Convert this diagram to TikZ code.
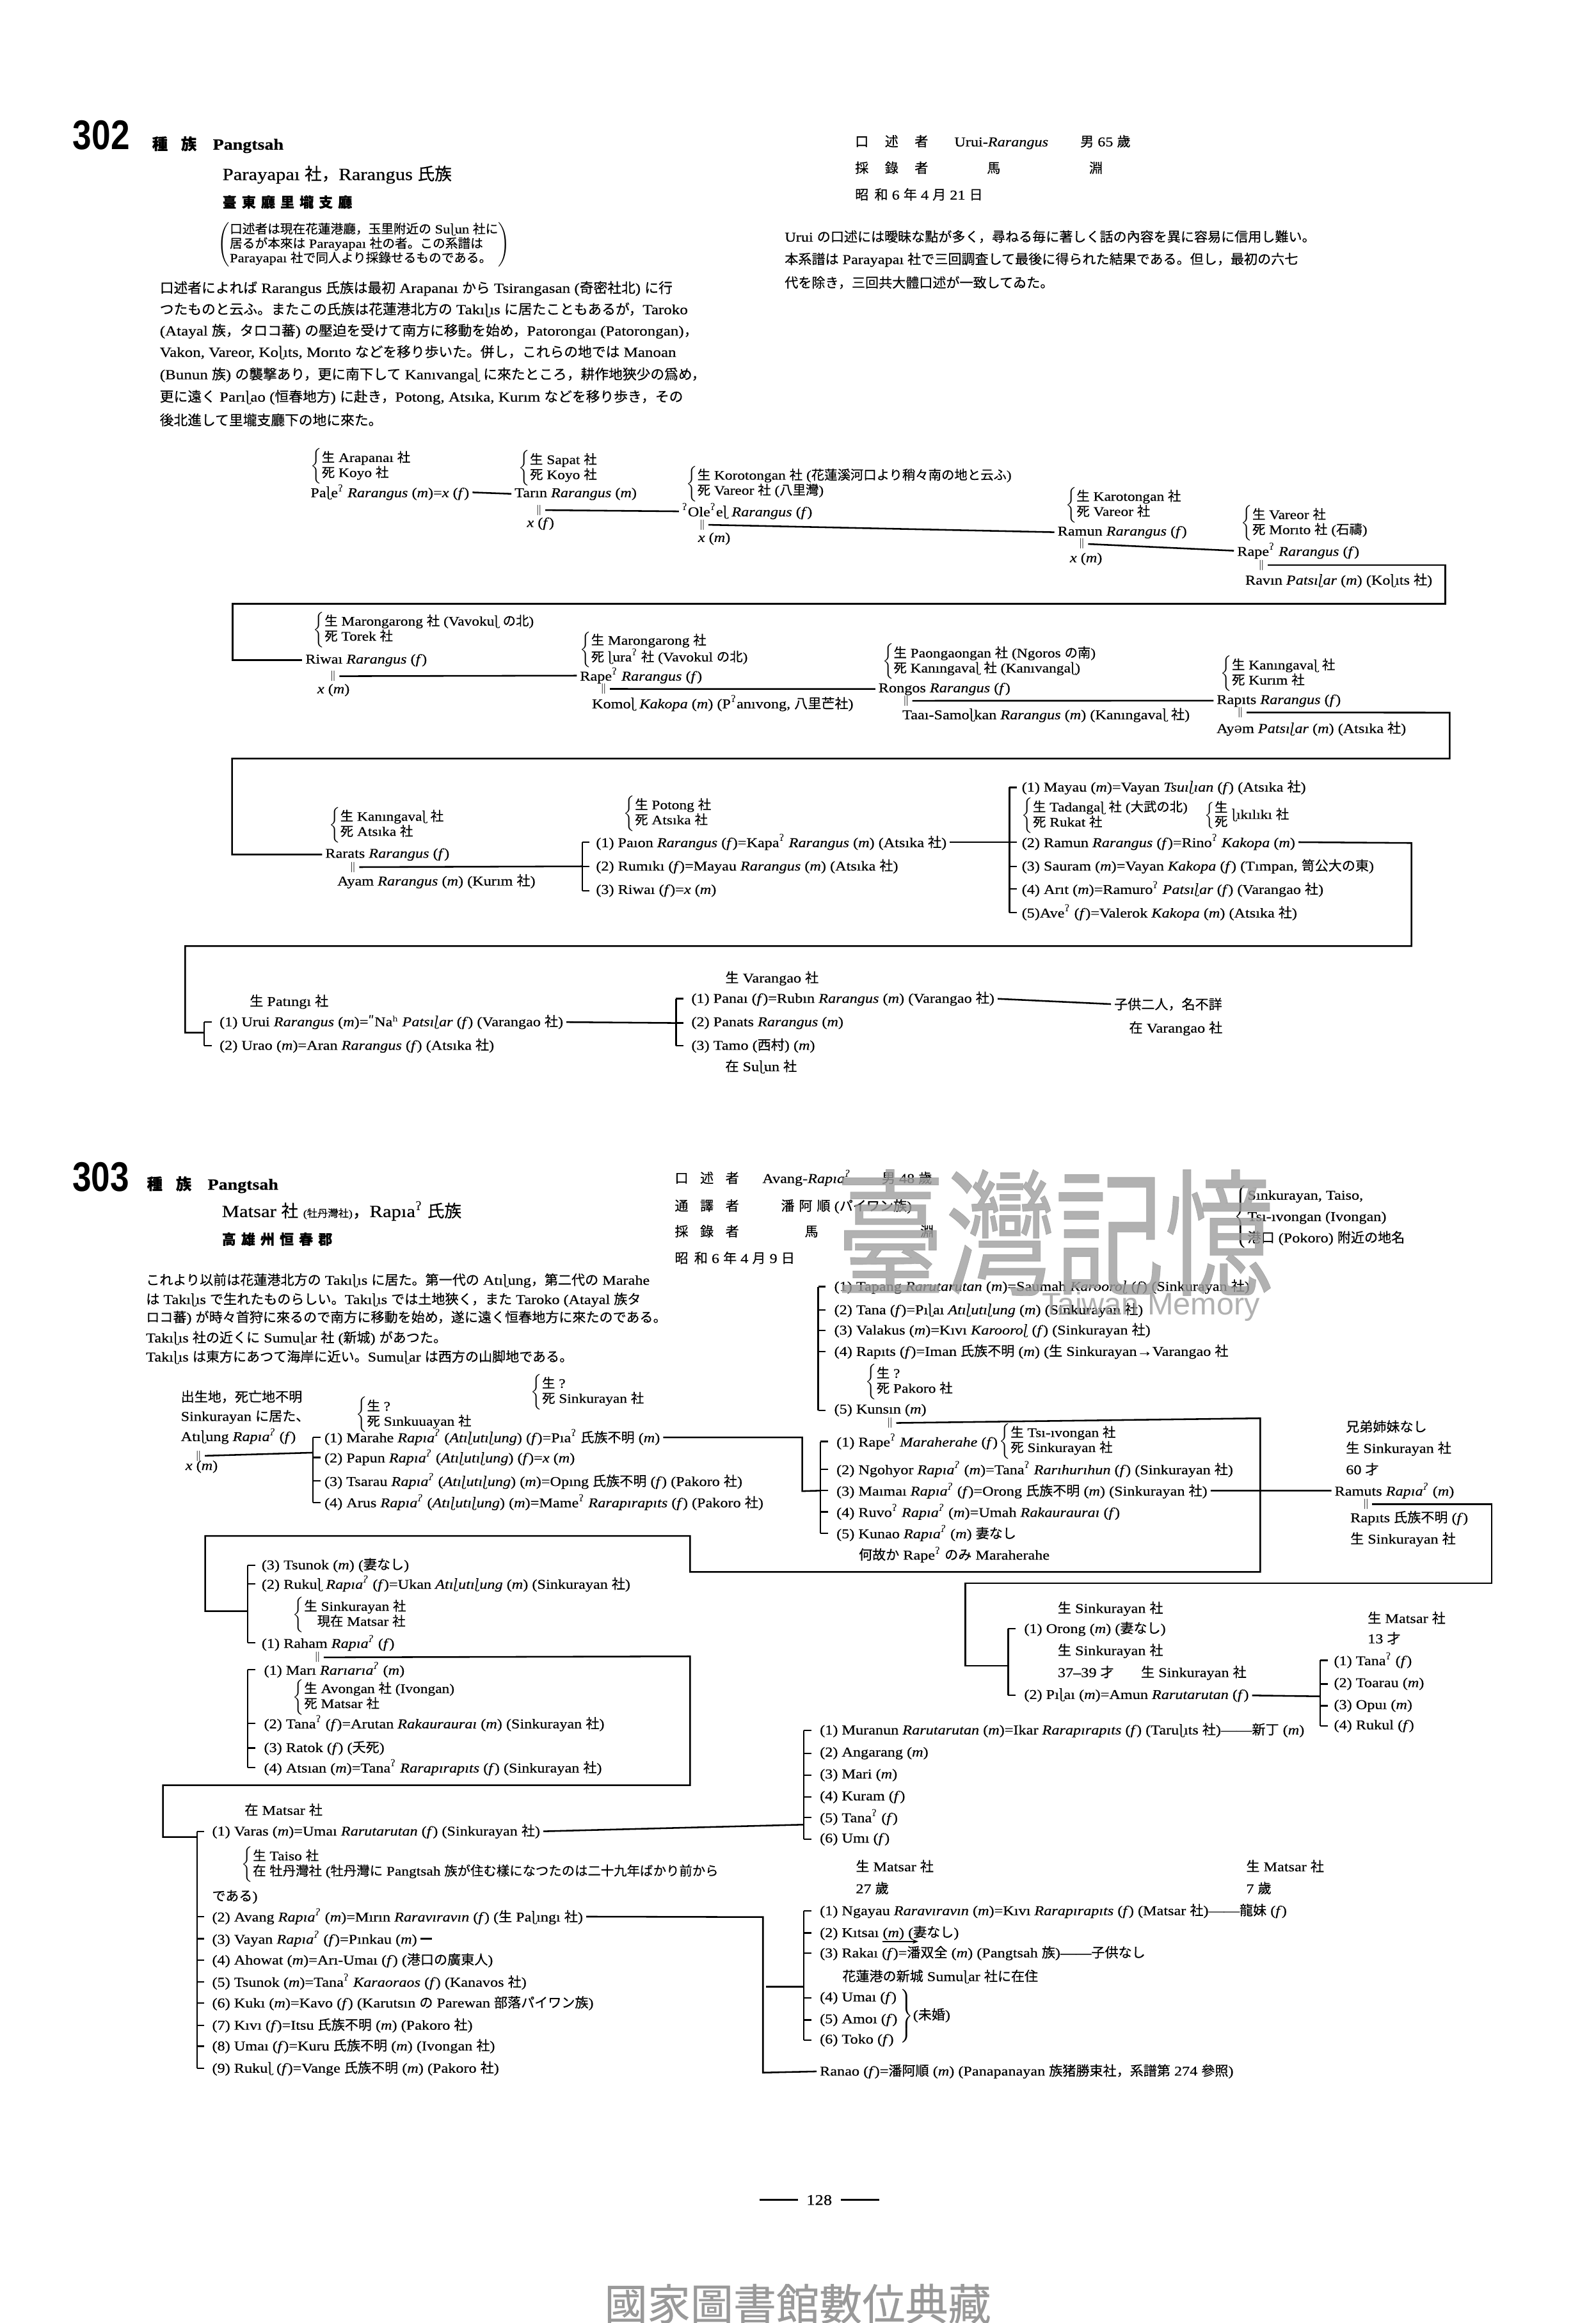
\documentclass[tikz,border=0pt]{standalone}
\usepackage{fontspec}
\setmainfont{Liberation Serif}[FakeStretch=1.15, FakeBold=0.6]
\newfontfamily\jp{Noto Sans CJK JP}[FakeBold=0.4]
\newfontfamily\ipa{DejaVu Serif}
\newfontfamily\hd{Liberation Sans}
\usetikzlibrary{arrows.meta}

% kanji/kana and IPA letters pick their own font
\XeTeXinterchartokenstate=1
\newXeTeXintercharclass\cjkcl
\newXeTeXintercharclass\ipacl
\newcount\cjkcnt
\cjkcnt="3000 \loop\ifnum\cjkcnt<"A000 \XeTeXcharclass\cjkcnt=\cjkcl \advance\cjkcnt by 1 \repeat
\cjkcnt="FF00 \loop\ifnum\cjkcnt<"FFF0 \XeTeXcharclass\cjkcnt=\cjkcl \advance\cjkcnt by 1 \repeat
\cjkcnt="0250 \loop\ifnum\cjkcnt<"0300 \XeTeXcharclass\cjkcnt=\ipacl \advance\cjkcnt by 1 \repeat
\XeTeXinterchartoks 0 \cjkcl={\begingroup\jp}
\XeTeXinterchartoks 4095 \cjkcl={\begingroup\jp}
\XeTeXinterchartoks \cjkcl 0={\endgroup}
\XeTeXinterchartoks \cjkcl 4095={\endgroup}
\XeTeXinterchartoks 0 \ipacl={\begingroup\ipa}
\XeTeXinterchartoks 4095 \ipacl={\begingroup\ipa}
\XeTeXinterchartoks \ipacl 0={\endgroup}
\XeTeXinterchartoks \ipacl 4095={\endgroup}
\XeTeXinterchartoks \cjkcl \ipacl={\endgroup\begingroup\ipa}
\XeTeXinterchartoks \ipacl \cjkcl={\endgroup\begingroup\jp}

\newcommand\gl{\textsuperscript{ʔ}}
\newcommand\fm{(\textit{f})}
\newcommand\ml{(\textit{m})}
\newcommand\shisi[2]{$\left\{\begin{tabular}{@{}l@{}}#1\\#2\end{tabular}\right.$}

\begin{document}
\begin{tikzpicture}[x=1pt, y=-1pt,
    tx/.style={anchor=base west, inner sep=0pt},
    gen/.style={anchor=base west, inner sep=0pt, yshift=-3pt, font=\fontsize{9.1}{10}\selectfont},
    brc/.style={anchor=west, inner sep=0pt, font=\fontsize{8.8}{9.2}\selectfont},
    para/.style={anchor=base west, inner sep=0pt, yshift=-3.3pt, font=\fontsize{9.1}{10}\selectfont},
    mk/.style={inner sep=0pt, font=\fontsize{7.5}{7.5}\selectfont},
    ln/.style={line width=1.1pt, shorten <=2pt},
    lnn/.style={ln, shorten >=2pt},
    br/.style={line width=1pt}
]
\fill[white] (0,0) rectangle (1077,1568);
\useasboundingbox (0,0) rectangle (1077,1568);

% ---------------- 302 header ----------------
\node[tx, font=\hd\bfseries\fontsize{28}{28}\selectfont] (n302) at (49,100.8) {\scalebox{0.82}[1]{302}};
\node[tx, font=\bfseries\fontsize{10.5}{12}\selectfont] (t302) at (102.5,101) {種\hspace{9pt}族\hspace{11pt}Pangtsah};
\node[tx, font=\fontsize{11.5}{13}\selectfont] (s302) at (150,121.5) {Parayapaı 社，Rarangus 氏族};
\node[tx, font=\bfseries\fontsize{9.5}{11}\selectfont] (a302) at (150,140) {臺\hspace{3.5pt}東\hspace{3.5pt}廳\hspace{3.5pt}里\hspace{3.5pt}壠\hspace{3.5pt}支\hspace{3.5pt}廳};
\node[anchor=west, inner sep=0pt, font=\fontsize{8.5}{8.6}\selectfont] (note302) at (147,165) {$\left(\begin{tabular}{@{}l@{}}口述者は現在花蓮港廳，玉里附近の Suɭun 社に\\居るが本來は Parayapaı 社の者。この系譜は\\Parayapaı 社で同人より採錄せるものである。\end{tabular}\right)$};

\node[para, font=\fontsize{9.4}{10}\selectfont] (p1) at (107.7,194.4) {口述者によれば Rarangus 氏族は最初 Arapanaı から Tsirangasan (奇密社北) に行};
\node[para, font=\fontsize{9.4}{10}\selectfont] (p2) at (107.7,208.8) {つたものと云ふ。またこの氏族は花蓮港北方の Takıɭıs に居たこともあるが，Taroko};
\node[para, font=\fontsize{9.4}{10}\selectfont] (p3) at (107.7,223.2) {(Atayal 族，タロコ蕃) の壓迫を受けて南方に移動を始め，Patorongaı (Patorongan)，};
\node[para, font=\fontsize{9.4}{10}\selectfont] (p4) at (107.7,237.6) {Vakon, Vareor, Koɭıts, Morıto などを移り歩いた。併し，これらの地では Manoan};
\node[para, font=\fontsize{9.4}{10}\selectfont] (p5) at (107.7,252.7) {(Bunun 族) の襲撃あり，更に南下して Kanıvangaɭ に來たところ，耕作地狹少の爲め，};
\node[para, font=\fontsize{9.4}{10}\selectfont] (p6) at (107.7,267.8) {更に遠く Parıɭao (恒春地方) に赴き，Potong, Atsıka, Kurım などを移り歩き，その};
\node[para, font=\fontsize{9.4}{10}\selectfont] (p7) at (107.7,283.7) {後北進して里壠支廳下の地に來た。};

\node[gen] (i1) at (577,95.8) {口\hspace{11pt}述\hspace{11pt}者};
\node[gen] (i1n) at (644,95.8) {Urui-\textit{Rarangus}};
\node[gen] (i1a) at (729,95.8) {男 65 歲};
\node[gen] (i2) at (577,113.7) {採\hspace{11pt}錄\hspace{11pt}者};
\node[gen] (i2a) at (666,113.7) {馬};
\node[gen] (i2b) at (735,113.7) {淵};
\node[gen] (i3) at (577,131.7) {昭\hspace{4pt}和 6 年 4 月 21 日};

\node[para] (r1) at (529.5,159.8) {Urui の口述には曖昧な點が多く，尋ねる毎に著しく話の內容を異に容易に信用し難い。};
\node[para] (r2) at (529.5,174.9) {本系譜は Parayapaı 社で三回調査して最後に得られた結果である。但し，最初の六七};
\node[para] (r3) at (529.5,190.8) {代を除き，三回共大體口述が一致してゐた。};

% ---------------- 302 tree, row 1 ----------------
\node[brc] (bpale) at (209.5,314.6) {\shisi{生 Arapanaı 社}{死 Koyo 社}};
\node[gen] (pale) at (209.5,332.6) {Paɭe\gl{} \textit{Rarangus} \ml=\textit{x} \fm};
\node[brc] (btarin) at (350,316) {\shisi{生 Sapat 社}{死 Koyo 社}};
\node[gen] (tarin) at (347.2,332.6) {Tarın \textit{Rarangus} \ml};
\node[mk] (mk1) at (363.8,344.3) {$\Vert$};
\node[gen] (xf1) at (355.5,352.7) {\textit{x} \fm};
\node[brc] (bole) at (463,326.5) {\shisi{生 Korotongan 社 (花蓮溪河口より稍々南の地と云ふ)}{死 Vareor 社 (八里灣)}};
\node[gen] (ole) at (460.2,345.5) {\gl Ole\gl eɭ \textit{Rarangus} \fm};
\node[mk] (mk2) at (474,354.2) {$\Vert$};
\node[gen] (xm2) at (471,362.8) {\textit{x} \ml};
\node[brc] (bramun) at (719,340.8) {\shisi{生 Karotongan 社}{死 Vareor 社}};
\node[gen] (ramun) at (713.7,358.5) {Ramun \textit{Rarangus} \fm};
\node[mk] (mk3) at (730.2,367.1) {$\Vert$};
\node[gen] (xm3) at (722,376.5) {\textit{x} \ml};
\node[brc] (brape1) at (837.6,353.1) {\shisi{生 Vareor 社}{死 Morıto 社 (石禱)}};
\node[gen] (rape1) at (834.9,372.2) {Rape\gl{} \textit{Rarangus} \fm};
\node[mk] (mk4) at (851.4,381.5) {$\Vert$};
\node[gen] (ravin) at (840.4,391.6) {Ravın \textit{Patsıɭar} \ml{} (Koɭıts 社)};

\draw[lnn] (pale.east) -- (tarin.west);
\draw[lnn] (mk1.east) -- (ole.west);
\draw[lnn] (mk2.east) -- (ramun.west);
\draw[lnn] (mk3.east) -- (rape1.west);

% ---------------- row 2 ----------------
\node[brc] (briwai) at (211.4,425) {\shisi{生 Marongarong 社 (Vavokuɭ の北)}{死 Torek 社}};
\node[gen] (riwai) at (206,444.9) {Riwaı \textit{Rarangus} \fm};
\node[mk] (mk5) at (224.8,456.4) {$\Vert$};
\node[gen] (xm5) at (214,465) {\textit{x} \ml};
\node[brc] (brape2) at (391.3,438.5) {\shisi{生 Marongarong 社}{死 ɭura\gl{} 社 (Vavokul の北)}};
\node[gen] (rape2) at (391.3,456.4) {Rape\gl{} \textit{Rarangus} \fm};
\node[mk] (mk6) at (407.4,465) {$\Vert$};
\node[gen] (komol) at (399.4,475.1) {Komoɭ \textit{Kakopa} \ml{} (P\gl anıvong, 八里芒社)};
\node[brc] (brongos) at (595.5,446.5) {\shisi{生 Paongaongan 社 (Ngoros の南)}{死 Kanıngavaɭ 社 (Kanıvangaɭ)}};
\node[gen] (rongos) at (592.8,464.3) {Rongos \textit{Rarangus} \fm};
\node[mk] (mk7) at (611.6,473) {$\Vert$};
\node[gen] (taai) at (608.9,482.5) {Taaı-Samoɭkan \textit{Rarangus} \ml{} (Kanıngavaɭ 社)};
\node[brc] (brapits) at (823.8,454.6) {\shisi{生 Kanıngavaɭ 社}{死 Kurım 社}};
\node[gen] (rapits) at (821.1,472.2) {Rapıts \textit{Rarangus} \fm};
\node[mk] (mk8) at (837.2,480.9) {$\Vert$};
\node[gen] (ayem) at (821,491.7) {Ayəm \textit{Patsıɭar} \ml{} (Atsıka 社)};

\draw[lnn] (mk4.east) -- (975.5,381.5) |- (157,407.5) |- (riwai.west);
\draw[lnn] (mk5.east) -- (rape2.west);
\draw[lnn] (mk6.east) -- (rongos.west);
\draw[lnn] (mk7.east) -- (rapits.west);

% ---------------- row 3 ----------------
\node[brc] (brarats) at (222,556.8) {\shisi{生 Kanıngavaɭ 社}{死 Atsıka 社}};
\node[gen] (rarats) at (219.4,576) {Rarats \textit{Rarangus} \fm};
\node[mk] (mk9) at (238.2,585.3) {$\Vert$};
\node[gen] (ayam) at (227.5,594.7) {Ayam \textit{Rarangus} \ml{} (Kurım 社)};
\node[brc] (bc) at (420.9,549) {\shisi{生 Potong 社}{死 Atsıka 社}};
\node[gen] (c1) at (402.1,568.8) {(1) Paıon \textit{Rarangus} \fm=Kapa\gl{} \textit{Rarangus} \ml{} (Atsıka 社)};
\node[gen] (c2) at (402.1,584.6) {(2) Rumıkı \fm=Mayau \textit{Rarangus} \ml{} (Atsıka 社)};
\node[gen] (c3) at (402.1,600.4) {(3) Riwaı \fm=\textit{x} \ml};
\node[gen] (d1) at (689.5,531.3) {(1) Mayau \ml=Vayan \textit{Tsuıɭıan} \fm{} (Atsıka 社)};
\node[brc] (bd) at (689.5,550.5) {\shisi{生 Tadangaɭ 社 (大武の北)}{死 Rukat 社}};
\node[brc] (bd2) at (813,550.5) {\shisi{生}{死}\,ɭıkılıkı 社};
\node[gen] (d2) at (689.5,568.8) {(2) Ramun \textit{Rarangus} \fm=Rino\gl{} \textit{Kakopa} \ml};
\node[gen] (d3) at (689.5,584.6) {(3) Sauram \ml=Vayan \textit{Kakopa} \fm{} (Tımpan, 笥公大の東)};
\node[gen] (d4) at (689.5,600.4) {(4) Arıt \ml=Ramuro\gl{} \textit{Patsıɭar} \fm{} (Varangao 社)};
\node[gen] (d5) at (689.5,616.3) {(5)Ave\gl{} \fm=Valerok \textit{Kakopa} \ml{} (Atsıka 社)};

\draw[lnn] (mk8.east) -- (978.5,481) |- (156.6,512) |- (rarats.west);
\draw[ln] (mk9.east) -- (c2.west -| 393,0);
\draw[br] (c1.west -| 393,0) -- (c3.west -| 393,0);
\foreach \n in {c1,c2,c3} \draw[br] (\n.west -| 393,0) -- ++(5,0);
\draw[ln] (c1.east) -- (d2.west -| 681.4,0);
\draw[br] (d1.west -| 681.4,0) -- (d5.west -| 681.4,0);
\foreach \n in {d1,d2,d3,d4,d5} \draw[br] (\n.west -| 681.4,0) -- ++(5,0);
\draw[ln] (d2.east) -- (952.7,569) |- (125,638.6) |- (137.8,697);

% ---------------- row 4 ----------------
\node[gen] (patingi) at (168.4,676) {生 Patıngı 社};
\node[gen] (u1) at (148,689.7) {(1) Urui \textit{Rarangus} \ml=ʺNaʰ \textit{Patsıɭar} \fm{} (Varangao 社)};
\node[gen] (u2) at (148,705.6) {(2) Urao \ml=Aran \textit{Rarangus} \fm{} (Atsıka 社)};
\node[gen] (varangao) at (489.4,660.2) {生 Varangao 社};
\node[gen] (e1) at (466.5,673.9) {(1) Panaı \fm=Rubın \textit{Rarangus} \ml{} (Varangao 社)};
\node[gen] (e2) at (466.5,689.7) {(2) Panats \textit{Rarangus} \ml};
\node[gen] (e3) at (466.5,705.6) {(3) Tamo (西村) \ml};
\node[gen] (sulun) at (489.4,720) {在 Suɭun 社};
\node[gen] (kids) at (751.9,678.2) {子供二人，名不詳};
\node[gen] (kidsat) at (762,694) {在 Varangao 社};

\draw[br] (u1.west -| 137.8,0) -- (u2.west -| 137.8,0);
\foreach \n in {u1,u2} \draw[br] (\n.west -| 137.8,0) -- ++(5,0);
\draw[ln] (u1.east) -- (e2.west -| 456.3,0);
\draw[br] (e1.west -| 456.3,0) -- (e3.west -| 456.3,0);
\foreach \n in {e1,e2,e3} \draw[br] (\n.west -| 456.3,0) -- ++(5,0);
\draw[lnn] (e1.east) -- (kids.west);

% ---------------- 303 header ----------------
\node[tx, font=\hd\bfseries\fontsize{28}{28}\selectfont] (n303) at (48.8,804) {\scalebox{0.82}[1]{303}};
\node[tx, font=\bfseries\fontsize{10.5}{12}\selectfont] (t303) at (99,803) {種\hspace{9pt}族\hspace{11pt}Pangtsah};
\node[tx, font=\fontsize{11.5}{13}\selectfont] (s303) at (149.6,821.5) {Matsar 社 {\fontsize{7}{7}\selectfont (牡丹灣社)}，Rapıa\gl{} 氏族};
\node[tx, font=\bfseries\fontsize{9.5}{11}\selectfont] (a303) at (149.6,840) {高\hspace{3.5pt}雄\hspace{3.5pt}州\hspace{3.5pt}恒\hspace{3.5pt}春\hspace{3.5pt}郡};

\node[para] (q1) at (98.4,863.9) {これより以前は花蓮港北方の Takıɭıs に居た。第一代の Atıɭung，第二代の Marahe};
\node[para] (q2) at (98.4,876.9) {は Takıɭıs で生れたものらしい。Takıɭıs では土地狹く，また Taroko (Atayal 族タ};
\node[para] (q3) at (98.4,889.1) {ロコ蕃) が時々首狩に來るので南方に移動を始め，遂に遠く恒春地方に來たのである。};
\node[para] (q4) at (98.4,902.8) {Takıɭıs 社の近くに Sumuɭar 社 (新城) があつた。};
\node[para] (q5) at (98.4,915.7) {Takıɭıs は東方にあつて海岸に近い。Sumuɭar は西方の山脚地である。};

\node[gen] (j1) at (455.3,795.5) {口\hspace{8pt}述\hspace{8pt}者};
\node[gen] (j1n) at (514.4,795.5) {Avang-\textit{Rapıa\gl}};
\node[gen] (j1a) at (595,795.5) {男 48 歲};
\node[gen] (j2) at (455.3,814.2) {通\hspace{8pt}譯\hspace{8pt}者};
\node[gen] (j2n) at (527,814.2) {潘\hspace{3pt}阿\hspace{3pt}順 (パイワン族)};
\node[gen] (j3) at (455.3,831.5) {採\hspace{8pt}錄\hspace{8pt}者};
\node[gen] (j3a) at (543,831.5) {馬};
\node[gen] (j3b) at (621,831.5) {淵};
\node[gen] (j4) at (455.3,849.5) {昭\hspace{4pt}和 6 年 4 月 9 日};
\node[anchor=west, inner sep=0pt, font=\fontsize{9.1}{14.4}\selectfont] (place) at (833,821.3) {$\left\{\begin{tabular}{@{}l@{}}Sınkurayan, Taiso,\\Tsı-ıvongan (Ivongan)\\港口 (Pokoro) 附近の地名\end{tabular}\right.$};

% ---------------- 303 tree ----------------
\node[gen] (o1t) at (121.9,943.1) {出生地，死亡地不明};
\node[gen] (o2t) at (121.9,956.1) {Sinkurayan に居た、};
\node[gen] (atil) at (121.9,969.7) {Atıɭung \textit{Rapıa\gl} \fm};
\node[mk] (mk10) at (134,982.7) {$\Vert$};
\node[gen] (xm10) at (125,989.2) {\textit{x} \ml};
\node[brc] (bf1) at (240,954.9) {\shisi{生 ?}{死 Sınkuuayan 社}};
\node[brc] (bf2) at (358.2,939.5) {\shisi{生 ?}{死 Sinkurayan 社}};
\node[gen] (f1) at (218.8,970.5) {(1) Marahe \textit{Rapıa\gl} (\textit{Atıɭutıɭung}) \fm=Pıa\gl{} 氏族不明 \ml};
\node[gen] (f2) at (218.8,984.1) {(2) Papun \textit{Rapıa\gl} (\textit{Atıɭutıɭung}) \fm=\textit{x} \ml};
\node[gen] (f3) at (218.8,1000) {(3) Tsarau \textit{Rapıa\gl} (\textit{Atıɭutıɭung}) \ml=Opıng 氏族不明 \fm{} (Pakoro 社)};
\node[gen] (f4) at (218.8,1014.4) {(4) Arus \textit{Rapıa\gl} (\textit{Atıɭutıɭung}) \ml=Mame\gl{} \textit{Rarapırapıts} \fm{} (Pakoro 社)};

\node[gen] (g1) at (562.9,868.3) {(1) Tapang \textit{Rarutarutan} \ml=Saumah \textit{Karooroɭ} \fm{} (Sinkurayan 社)};
\node[gen] (g2) at (562.9,884.1) {(2) Tana \fm=Pıɭaı \textit{Atıɭutıɭung} \ml{} (Sinkurayan 社)};
\node[gen] (g3) at (562.9,897.8) {(3) Valakus \ml=Kıvı \textit{Karooroɭ} \fm{} (Sinkurayan 社)};
\node[gen] (g4) at (562.9,912.2) {(4) Rapıts \fm=Iman 氏族不明 \ml{} (生 Sinkurayan→Varangao 社};
\node[brc] (bg) at (584,932.7) {\shisi{生 ?}{死 Pakoro 社}};
\node[gen] (g5) at (562.9,951.1) {(5) Kunsın \ml};
\node[mk] (mk11) at (600.7,960.5) {$\Vert$};

\node[gen] (h1) at (564.4,973.4) {(1) Rape\gl{} \textit{Maraherahe} \fm};
\node[brc] (bh1) at (674.5,972.7) {\shisi{生 Tsı-ıvongan 社}{死 Sinkurayan 社}};
\node[gen] (h2) at (564.4,992.1) {(2) Ngohyor \textit{Rapıa\gl} \ml=Tana\gl{} \textit{Rarıhurıhun} \fm{} (Sinkurayan 社)};
\node[gen] (h3) at (564.4,1006.5) {(3) Maımaı \textit{Rapıa\gl} \fm=Orong 氏族不明 \ml{} (Sinkurayan 社)};
\node[gen] (h4) at (564.4,1020.9) {(4) Ruvo\gl{} \textit{Rapıa\gl} \ml=Umah \textit{Rakaurauraı} \fm};
\node[gen] (h5) at (564.4,1035.3) {(5) Kunao \textit{Rapıa\gl} \ml{} 妻なし};
\node[gen] (hnote) at (579.5,1049.7) {何故か Rape\gl{} のみ Maraherahe};

\node[gen] (sib) at (908.3,963.3) {兄弟姉妹なし};
\node[gen] (sibb) at (908.3,977.7) {生 Sinkurayan 社};
\node[gen] (siba) at (908.3,992.1) {60 才};
\node[gen] (ramuts) at (900.7,1006.5) {Ramuts \textit{Rapıa\gl} \ml};
\node[mk] (mk12) at (922,1015.2) {$\Vert$};
\node[gen] (rapits2) at (911.3,1024.5) {Rapıts 氏族不明 \fm};
\node[gen] (rapits2b) at (911.3,1038.9) {生 Sinkurayan 社};

\draw[ln] (mk10.east) -- (211.3,980.5);
\draw[br] (f1.west -| 211.3,0) -- (f4.west -| 211.3,0);
\foreach \n in {f1,f2,f3,f4} \draw[br] (\n.west -| 211.3,0) -- ++(5,0);
\draw[br] (g1.west -| 552.3,0) -- (g5.west -| 552.3,0);
\foreach \n in {g1,g2,g3,g4,g5} \draw[br] (\n.west -| 552.3,0) -- ++(5,0);
\draw[ln] (f1.east) -| (541.5,1006.5) -- (h3.west -| 553.8,0);
\draw[br] (h1.west -| 553.8,0) -- (h5.west -| 553.8,0);
\foreach \n in {h1,h2,h3,h4,h5} \draw[br] (\n.west -| 553.8,0) -- ++(5,0);
\draw[lnn] (h3.east) -- (ramuts.west);
\draw[ln] (mk11.east) -- (850.7,957.3) |- (465.8,1061) |- (138.5,1036.7) |- (167.3,1087.5);
\draw[ln] (mk12.east) -- (1006.8,1015.2) |- (651.7,1068.6) |- (680.5,1124.4);

% Kunsin's children and the Mari family
\node[gen] (k3) at (176.4,1056.3) {(3) Tsunok \ml{} (妻なし)};
\node[gen] (k2) at (176.4,1069.4) {(2) Rukuɭ \textit{Rapıa\gl} \fm=Ukan \textit{Atıɭutıɭung} \ml{} (Sinkurayan 社)};
\node[brc] (bk) at (197.6,1090) {\shisi{生 Sinkurayan 社}{\hspace{1em}現在 Matsar 社}};
\node[gen] (k1) at (176.4,1109.3) {(1) Raham \textit{Rapıa\gl} \fm};
\node[mk] (mk13) at (214.3,1118.7) {$\Vert$};
\node[gen] (m1) at (178,1127.4) {(1) Marı \textit{Rarıarıa\gl} \ml};
\node[brc] (bm) at (197.6,1145.5) {\shisi{生 Avongan 社 (Ivongan)}{死 Matsar 社}};
\node[gen] (m2) at (178,1163.6) {(2) Tana\gl{} \fm=Arutan \textit{Rakaurauraı} \ml{} (Sinkurayan 社)};
\node[gen] (m3) at (178,1179.6) {(3) Ratok \fm{} (夭死)};
\node[gen] (m4) at (178,1193.4) {(4) Atsıan \ml=Tana\gl{} \textit{Rarapırapıts} \fm{} (Sinkurayan 社)};

\draw[br] (k3.west -| 167.3,0) -- (k1.west -| 167.3,0);
\foreach \n in {k3,k2,k1} \draw[br] (\n.west -| 167.3,0) -- ++(5,0);
\draw[br] (m1.west -| 167.3,0) -- (m4.west -| 167.3,0);
\foreach \n in {m1,m2,m3,m4} \draw[br] (\n.west -| 167.3,0) -- ++(5,0);
\draw[ln] (mk13.east) -- (465.8,1118) |- (110,1205) |- (133,1240);

% Ramuts' children
\node[gen] (ob) at (713.8,1085.7) {生 Sinkurayan 社};
\node[gen] (o1) at (691.1,1099.3) {(1) Orong \ml{} (妻なし)};
\node[gen] (o2b) at (713.8,1114.2) {生 Sinkurayan 社};
\node[gen] (o2a) at (713.8,1129) {37–39 才};
\node[gen] (o2c) at (770,1129) {生 Sinkurayan 社};
\node[gen] (o2) at (691.1,1143.8) {(2) Pıɭaı \ml=Amun \textit{Rarutarutan} \fm};
\node[gen] (tb) at (923,1092.5) {生 Matsar 社};
\node[gen] (ta) at (923,1106.2) {13 才};
\node[gen] (t1) at (900.2,1121) {(1) Tana\gl{} \fm};
\node[gen] (t2) at (900.2,1135.8) {(2) Toarau \ml};
\node[gen] (t3) at (900.2,1150.6) {(3) Opuı \ml};
\node[gen] (t4) at (900.2,1164.3) {(4) Rukul \fm};

\draw[br] (o1.west -| 680.5,0) -- (o2.west -| 680.5,0);
\foreach \n in {o1,o2} \draw[br] (\n.west -| 680.5,0) -- ++(5,0);
\draw[ln] (o2.east) -- (891.1,1145);
\draw[br] (t1.west -| 891.1,0) -- (t4.west -| 891.1,0);
\foreach \n in {t1,t2,t3,t4} \draw[br] (\n.west -| 891.1,0) -- ++(5,0);

% Raham's children
\node[gen] (vat) at (165,1222) {在 Matsar 社};
\node[gen] (v1) at (143,1236) {(1) Varas \ml=Umaı \textit{Rarutarutan} \fm{} (Sinkurayan 社)};
\node[brc] (bv) at (163,1258.5) {\shisi{生 Taiso 社}{在 牡丹灣社 (牡丹灣に Pangtsah 族が住む樣になつたのは二十九年ばかり前から}};
\node[gen] (vt) at (143,1280) {である)};
\node[gen] (v2) at (143,1294) {(2) Avang \textit{Rapıa\gl} \ml=Mırın \textit{Raravıravın} \fm{} (生 Paɭıngı 社)};
\node[gen] (v3) at (143,1309) {(3) Vayan \textit{Rapıa\gl} \fm=Pınkau \ml};
\node[gen] (v4) at (143,1323) {(4) Ahowat \ml=Arı-Umaı \fm{} (港口の廣東人)};
\node[gen] (v5) at (143,1338) {(5) Tsunok \ml=Tana\gl{} \textit{Karaoraos} \fm{} (Kanavos 社)};
\node[gen] (v6) at (143,1352) {(6) Kukı \ml=Kavo \fm{} (Karutsın の Parewan 部落パイワン族)};
\node[gen] (v7) at (143,1367) {(7) Kıvı \fm=Itsu 氏族不明 \ml{} (Pakoro 社)};
\node[gen] (v8) at (143,1381) {(8) Umaı \fm=Kuru 氏族不明 \ml{} (Ivongan 社)};
\node[gen] (v9) at (143,1396) {(9) Rukuɭ \fm=Vange 氏族不明 \ml{} (Pakoro 社)};

\draw[br] (v1.west -| 133,0) -- (v9.west -| 133,0);
\foreach \n in {v1,v2,v3,v4,v5,v6,v7,v8,v9} \draw[br] (\n.west -| 133,0) -- ++(5,0);
\draw[ln] (v3.east) -- ++(10,0);

% grandchildren
\node[gen] (n1) at (553.2,1167.7) {(1) Muranun \textit{Rarutarutan} \ml=Ikar \textit{Rarapırapıts} \fm{} (Taruɭıts 社)——新丁 \ml};
\node[gen] (n2) at (553.2,1182.6) {(2) Angarang \ml};
\node[gen] (n3) at (553.2,1197.4) {(3) Mari \ml};
\node[gen] (n4) at (553.2,1212.2) {(4) Kuram \fm};
\node[gen] (n5) at (553.2,1227) {(5) Tana\gl{} \fm};
\node[gen] (n6) at (553.2,1240.7) {(6) Umı \fm};
\node[gen] (pb) at (577.5,1260.1) {生 Matsar 社};
\node[gen] (pa) at (577.5,1274.9) {27 歲};
\node[gen] (pcb) at (841,1260.1) {生 Matsar 社};
\node[gen] (pca) at (841,1274.9) {7 歲};
\node[gen] (r1n) at (553.2,1289.7) {(1) Ngayau \textit{Raravıravın} \ml=Kıvı \textit{Rarapırapıts} \fm{} (Matsar 社)——龍妹 \fm};
\node[gen] (r2n) at (553.2,1304.5) {(2) Kıtsaı \ml{} (妻なし)};
\node[gen] (r3n) at (553.2,1318.2) {(3) Rakaı \fm=潘双全 \ml{} (Pangtsah 族)——子供なし};
\node[gen] (r3t) at (568.4,1334.2) {花蓮港の新城 Sumuɭar 社に在住};
\node[gen] (r4n) at (553.2,1347.9) {(4) Umaı \fm};
\node[gen] (r5n) at (553.2,1362.7) {(5) Amoı \fm};
\node[gen] (r6n) at (553.2,1376.4) {(6) Toko \fm};
\node[anchor=west, inner sep=0pt, font=\fontsize{9.1}{10}\selectfont] (mikon) at (606,1361.5) {$\left.\rule[-17pt]{0pt}{34pt}\right\}$(未婚)};
\node[gen] (ranao) at (553.2,1398) {Ranao \fm=潘阿順 \ml{} (Panapanayan 族猪勝束社，系譜第 274 參照)};

\draw[ln] (v1.east) -- (542.6,1231.6);
\draw[br] (n1.west -| 542.6,0) -- (n6.west -| 542.6,0);
\foreach \n in {n1,n2,n3,n4,n5,n6} \draw[br] (\n.west -| 542.6,0) -- ++(5,0);
\draw[lnn] (v2.east) -- (515,1294) -- (515,1399) -- (ranao.west);
\draw[ln] (515,1341) -- (542.6,1341);
\draw[br] (r1n.west -| 542.6,0) -- (r6n.west -| 542.6,0);
\foreach \n in {r1n,r2n,r3n,r4n,r5n,r6n} \draw[br] (\n.west -| 542.6,0) -- ++(5,0);
\draw[-{Stealth[length=4pt]}, line width=0.6pt] (595.7,1310.5) -- (619.9,1310.5);

% ---------------- page foot and stamps ----------------
\node[font=\fontsize{10}{10}\selectfont, inner sep=0pt] (page) at (553,1485) {\rule[3pt]{26pt}{0.9pt}\ \ 128\ \ \rule[3pt]{26pt}{0.9pt}};
\node[text=black!40, font=\fontsize{29}{30}\selectfont, inner sep=0pt] (lib) at (538.5,1555) {國家圖書館數位典藏};
\node[text=black!38, opacity=0.8, font=\fontsize{74}{74}\selectfont, inner sep=0pt] (wm) at (712,832) {\scalebox{1}[1.25]{臺灣記憶}};
\node[text=black!38, opacity=0.8, font=\hd\fontsize{21}{21}\selectfont, inner sep=0pt] (wm2) at (777,882) {Taiwan Memory};
\end{tikzpicture}
\end{document}
